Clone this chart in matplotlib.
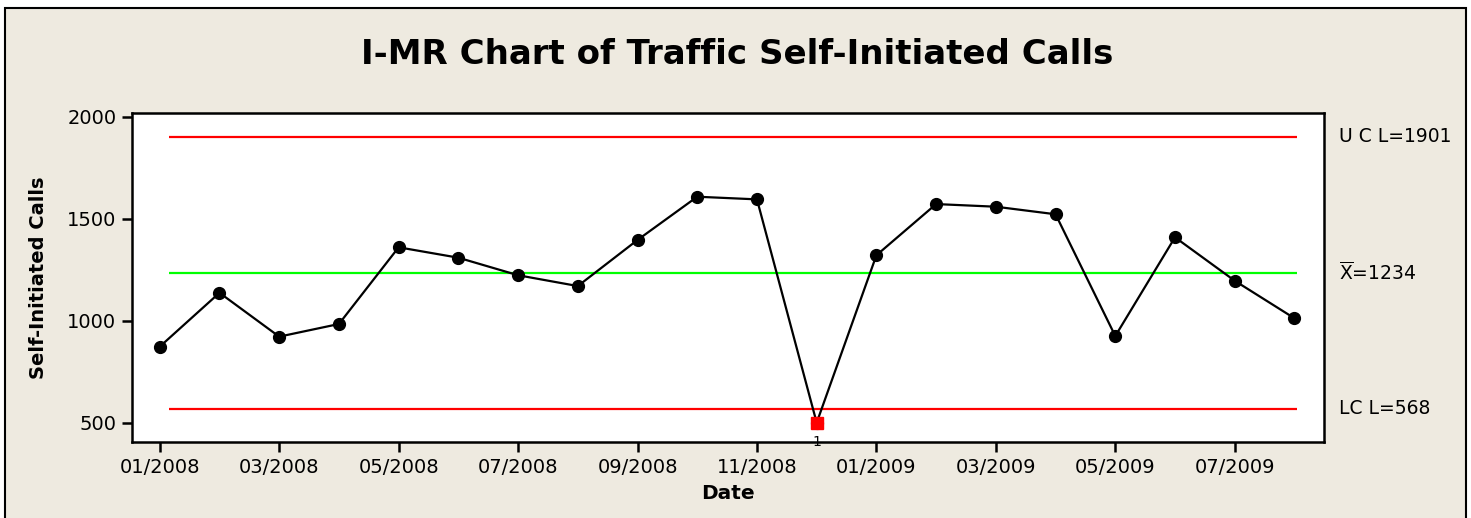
import matplotlib
matplotlib.use("Agg")
import matplotlib.pyplot as plt
import matplotlib.patches as patches
import matplotlib.transforms as mtransforms

plt.rcParams['mathtext.fontset'] = 'dejavusans'

# monthly self-initiated calls, 01/2008 .. 08/2009
months = ["01/2008", "02/2008", "03/2008", "04/2008", "05/2008", "06/2008",
          "07/2008", "08/2008", "09/2008", "10/2008", "11/2008", "12/2008",
          "01/2009", "02/2009", "03/2009", "04/2009", "05/2009", "06/2009",
          "07/2009", "08/2009"]
calls = [873, 1137, 922, 984, 1360, 1309, 1223, 1170, 1396, 1608,
         1595, 500, 1321, 1572, 1559, 1522, 925, 1409, 1196, 1012]
ucl = 1901
mean = 1234
lcl = 568
out_idx = [11]          # points flagged by test 1
yticks = [500, 1000, 1500, 2000]

bg = "#EEEAE0"
W, H = 1471, 518
fig = plt.figure(figsize=(W / 100, H / 100), dpi=100)
fig.patch.set_facecolor("white")

# beige panel with black frame
panel = patches.Rectangle((5 / W, -0.05), (1466 - 5) / W, 1.05 - 8 / H,
                          transform=fig.transFigure, facecolor=bg,
                          edgecolor="black", linewidth=1.5, zorder=-10)
fig.patches.append(panel)

ax = fig.add_axes([131.7 / W, 1 - 442.3 / H, (1324.3 - 131.7) / W, (442.3 - 113.3) / H])
ax.set_facecolor("white")

x = list(range(len(calls)))
ax.plot(x, calls, color="black", linewidth=1.6, marker="o", markersize=8.5,
        markerfacecolor="black", zorder=3)
ax.plot([x[i] for i in out_idx], [calls[i] for i in out_idx], linestyle="none",
        marker="s", markersize=8, color="red", zorder=4)
for i in out_idx:
    ax.annotate("1", (x[i], calls[i]), xytext=(0, -14), textcoords="offset points",
                ha="center", va="center", fontsize=10)

ax.hlines([ucl, lcl], 0.15, 19.05, colors="#FF0000", linewidth=1.6, zorder=2)
ax.hlines([mean], 0.15, 19.05, colors="#00FF00", linewidth=1.6, zorder=2)

trans = mtransforms.blended_transform_factory(ax.transAxes, ax.transData)
ax.text(1.012, ucl, "U C L=1901", transform=trans, va="center", ha="left", fontsize=13.5)
ax.text(1.012, mean, r"$\overline{\mathregular{X}}$=1234", transform=trans,
        va="center", ha="left", fontsize=13.5)
ax.text(1.012, lcl, "LC L=568", transform=trans, va="center", ha="left", fontsize=13.5)

ax.set_xlim(-0.47, 19.5)
ax.set_ylim(404, 2017)
ax.set_yticks(yticks)
ax.set_xticks(x[::2])
ax.set_xticklabels(months[::2])
ax.tick_params(axis="both", direction="out", length=7, width=1.8, labelsize=14, pad=4)
for s in ax.spines.values():
    s.set_linewidth(1.8)

ax.set_xlabel("Date", fontsize=14.5, fontweight="bold", labelpad=5)
ax.set_ylabel("Self-Initiated Calls", fontsize=14, fontweight="bold", labelpad=14)
fig.text(0.501, 1 - 55 / H, "I-MR Chart of Traffic Self-Initiated Calls",
         ha="center", va="center", fontsize=24.5, fontweight="bold")

fig.savefig("out.png", dpi=100, facecolor=fig.get_facecolor())
